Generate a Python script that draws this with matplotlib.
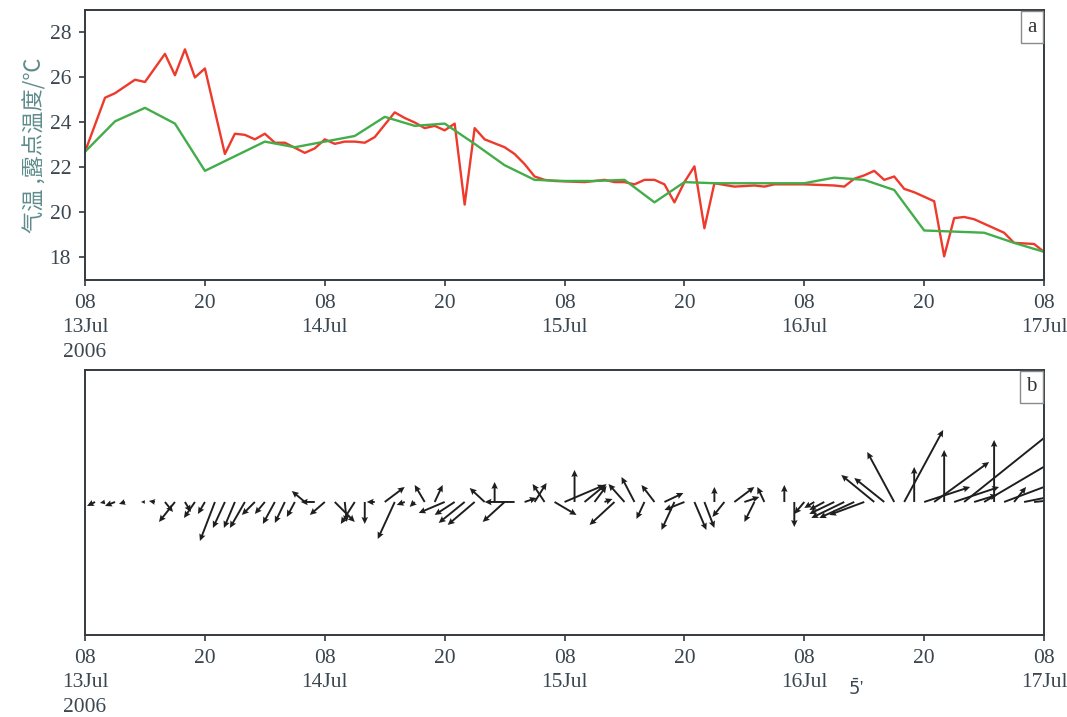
import numpy as np
import matplotlib
matplotlib.use("Agg")
import matplotlib.pyplot as plt

# 时间: 自 2006-07-13 08 时起的小时数
temp_hours = [0, 2, 3, 5, 6, 8, 9, 10, 11, 12, 14, 15, 16, 17, 18, 19, 20, 22, 23, 24,
              25, 26, 27, 28, 29, 31, 32, 33, 34, 35, 36, 37, 38, 39, 40, 42, 43, 44, 45,
              46, 47, 50, 52, 53, 54, 55, 56, 57, 58, 59, 60, 61, 62, 63, 65, 67, 68, 69,
              72, 75, 76, 77, 78, 79, 80, 81, 82, 83, 85, 86, 87, 88, 89, 92, 93, 95, 96]
temp_values = [22.7, 25.1, 25.3, 25.9, 25.8, 27.05, 26.1, 27.25, 26.0, 26.4, 22.6, 23.5,
               23.45, 23.25, 23.5, 23.1, 23.1, 22.65, 22.85, 23.25, 23.05, 23.15, 23.15,
               23.1, 23.35, 24.45, 24.2, 24.0, 23.75, 23.85, 23.65, 23.95, 20.35, 23.75,
               23.25, 22.9, 22.6, 22.15, 21.6, 21.45, 21.4, 21.35, 21.45, 21.35, 21.35,
               21.25, 21.45, 21.45, 21.25, 20.45, 21.35, 22.05, 19.3, 21.3, 21.15, 21.2,
               21.15, 21.25, 21.25, 21.2, 21.15, 21.5, 21.65, 21.85, 21.45, 21.6, 21.05,
               20.9, 20.5, 18.05, 19.75, 19.8, 19.7, 19.1, 18.65, 18.6, 18.25]

dew_hours = [0, 3, 6, 9, 12, 18, 21, 24, 27, 30, 33, 36, 39, 42, 45, 48, 51, 54, 57, 60,
             63, 66, 69, 72, 75, 78, 81, 84, 87, 90, 93, 96]
dew_values = [22.7, 24.05, 24.65, 23.95, 21.85, 23.15, 22.9, 23.15, 23.4, 24.25, 23.85,
              23.95, 23.05, 22.1, 21.45, 21.4, 21.4, 21.45, 20.45, 21.35, 21.3, 21.3,
              21.3, 21.3, 21.55, 21.45, 21.0, 19.2, 19.15, 19.1, 18.65, 18.25]

# 逐时风矢量 (m/s)
wind_hours = list(range(97))
wind_u = [-0.4, -0.8, -0.5, -1.0, -0.6, 0.0, -0.4, -0.6, 0.8, -1.6, 0.6, -1.1, -0.7, -1.5,
          -1.2, -1.1, -1.5, -1.3, -1.0, -1.2, -1.0, -0.8, -1.3, -1.4, -1.5, 2.0, 0.2, -1.4,
          0.0, -0.8, 2.0, -1.7, -0.8, -0.5, -1.0, 0.8, -2.6, -2.0, -2.6, -2.7, -1.5, 0.0,
          -2.2, -3.0, 1.2, 1.2, -1.2, 2.2, 4.0, 0.0, 2.2, 1.2, 0.8, -2.5, -1.6, -1.3, -0.8,
          -1.3, 1.9, -1.3, -2.0, 1.2, 1.0, 0.0, -1.2, 2.0, 1.5, -1.0, -0.7, 0.0, 0.0, 0.0,
          -1.0, -1.0, -1.5, -2.5, -3.3, -3.5, -3.5, -3.3, -3.0, -2.7, 3.9, 0.0, 4.6, 5.5,
          0.0, 4.5, 10.0, 2.3, 9.0, 0.0, 8.0, 1.2, 6.0, 4.0, 3.0]
wind_v = [-0.2, -0.4, -0.1, -0.4, -0.2, 0.0, 0.0, 0.1, -1.0, -2.0, -1.0, -1.6, -1.2, -3.9,
          -2.6, -2.6, -2.6, -1.3, -1.2, -2.2, -2.1, -1.5, 1.1, 0.0, -1.3, -2.0, -2.0, -2.2,
          -2.2, 0.0, 1.5, -3.7, -0.3, -0.5, 1.7, 1.7, -1.1, -1.3, -2.1, -2.3, 1.4, 2.0,
          -2.0, 0.0, 0.4, 1.9, 1.8, -1.3, 1.7, 3.2, 1.8, 1.6, 0.3, -2.3, 1.8, 2.5, -1.7,
          1.7, 0.9, -2.8, -0.8, -2.8, -2.6, 1.5, -1.5, 1.5, 0.5, -2.0, 1.5, 0.0, 1.7, -2.5,
          -1.2, -0.6, -0.8, -1.2, -1.6, -1.6, -1.3, 2.7, 2.4, 5.0, 7.2, 3.5, 1.5, 4.0,
          5.2, 1.5, 8.0, 0.7, 5.3, 6.2, 3.0, 1.5, 1.2, 0.4, 0.0]

tick_hours = [0, 12, 24, 36, 48, 60, 72, 84, 96]
tick_labels = ["08\n13Jul\n2006", "20", "08\n14Jul", "20", "08\n15Jul", "20",
               "08\n16Jul", "20", "08\n17Jul"]

serif = ["Liberation Serif", "DejaVu Serif"]
tick_color = "#3a4650"
spine_color = "#333a40"

fig = plt.figure(figsize=(10.67, 7.17), dpi=100)
ax1 = fig.add_axes([0.0797, 0.6095, 0.8988, 0.3766])
ax2 = fig.add_axes([0.0797, 0.1144, 0.8988, 0.3696])

# a: 气温和露点
ax1.plot(temp_hours, temp_values, color="#ee3a2c", lw=1.7)
ax1.plot(dew_hours, dew_values, color="#43ad4a", lw=1.7)
ax1.set_ylim(17, 29)
ax1.set_yticks([18, 20, 22, 24, 26, 28])
ax1.set_ylabel("气温 ,露点温度/℃", family=["Noto Sans CJK SC", "DejaVu Sans"],
               fontsize=16, color="#5f8c8c", labelpad=2)

# b: 风矢量, 1 m/s 与 1 小时等长
u = np.array(wind_u)
v = np.array(wind_v)
keep = (u != 0) | (v != 0)
ax2.quiver(np.array(wind_hours)[keep], np.zeros(keep.sum()), u[keep], v[keep],
           angles="xy", scale_units="xy", scale=1, width=0.002,
           headwidth=3.4, headlength=3.6, headaxislength=3.2, color="#1e1e1e")
ax2.set_ylim(-13.3, 13.2)
ax2.set_yticks([])

for ax, tag in [(ax1, "a"), (ax2, "b")]:
    ax.set_xlim(0, 96)
    ax.set_xticks(tick_hours)
    ax.set_xticklabels(tick_labels, family=serif, fontsize=15.5, color=tick_color,
                       linespacing=1.4, va="top")
    for lbl in ax.get_yticklabels():
        lbl.set_family(serif)
        lbl.set_fontsize(15.5)
        lbl.set_color(tick_color)
    ax.tick_params(direction="out", length=4, width=1.2, color=spine_color, pad=6)
    for s in ax.spines.values():
        s.set_color(spine_color)
        s.set_linewidth(1.4)
    ax.text(0.992, 0.972, tag, transform=ax.transAxes, ha="right", va="top",
            family=serif, fontsize=15, color="#333333",
            bbox=dict(boxstyle="square,pad=0.3", fc="white", ec="#8a8a8a", lw=1))

fig.text(0.795, 0.03, r"$\bar{5}$'", family=serif, fontsize=13, color=tick_color)

fig.savefig("out.png", dpi=100)
